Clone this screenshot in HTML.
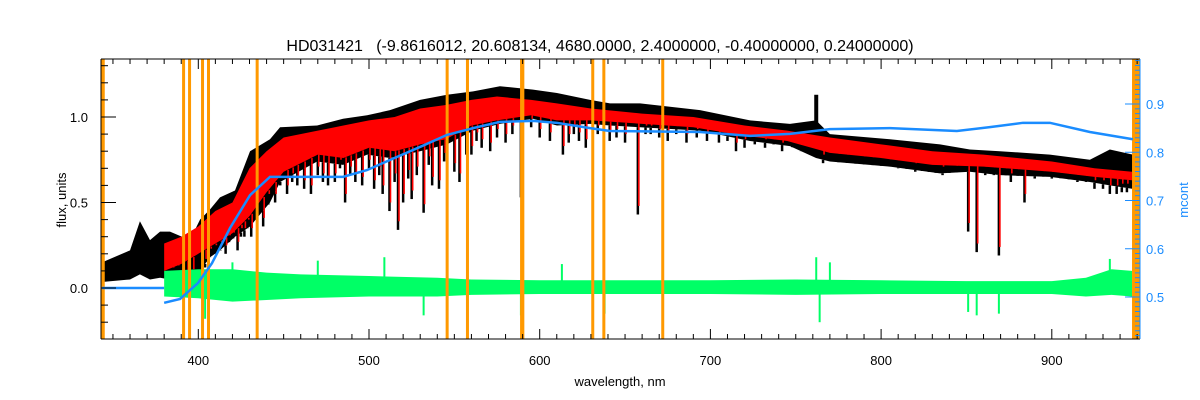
<!DOCTYPE html>
<html><head><meta charset="utf-8"><style>
html,body{margin:0;padding:0;background:#fff;}
svg{display:block;font-family:"Liberation Sans",sans-serif;}
</style></head><body>
<svg id="chart" width="1200" height="400" viewBox="0 0 1200 400" xmlns="http://www.w3.org/2000/svg">
<text x="600" y="51" text-anchor="middle" font-size="16" fill="#000" xml:space="preserve">HD031421   (-9.8616012, 20.608134, 4680.0000, 2.4000000, -0.40000000, 0.24000000)</text>
<text x="620" y="386" text-anchor="middle" font-size="13">wavelength, nm</text>
<text transform="translate(66,200) rotate(-90)" text-anchor="middle" font-size="13">flux, units</text>
<text transform="translate(1188,200) rotate(-90)" text-anchor="middle" font-size="13" fill="#1a8cff">mcont</text>
<g id="plot"></g>
</svg>
<script>
// ---- data ----
const envWl   = [343.6,360,365.8,371.7,377.6,383.4,395.1,401,406.9,412.7,421.5,430.3,442,447.9,469.6,484.8,498.9,512.3,529.9,545.7,561,576.7,596.1,610.1,629.5,641.2,658.8,693.9,723.2,746.6,761.9,770,805.2,834.5,852,869.6,898.9,922.3,934,947.5];
const fluxHi  = [0.15,0.22,0.39,0.28,0.33,0.33,0.28,0.40,0.46,0.53,0.57,0.80,0.87,0.94,0.95,0.99,1.01,1.04,1.10,1.13,1.15,1.18,1.16,1.14,1.10,1.08,1.08,1.04,0.98,0.96,0.98,0.90,0.87,0.84,0.81,0.80,0.78,0.75,0.81,0.78];
const fluxLo  = [0.035,0.05,0.08,0.05,0.06,0.05,0.05,0.10,0.18,0.22,0.30,0.36,0.50,0.62,0.74,0.72,0.78,0.76,0.80,0.84,0.92,0.96,0.99,0.95,0.96,0.95,0.94,0.92,0.86,0.83,0.76,0.74,0.71,0.67,0.68,0.66,0.65,0.62,0.60,0.58];
const modelWl = [380,390,400,410,420,430,440,450,470,485,500,515,530,545,560,575,595,610,630,660,690,720,745,770,800,830,860,900,925,947];
const modelHi = [0.26,0.30,0.36,0.45,0.50,0.70,0.80,0.88,0.92,0.95,0.98,1.00,1.05,1.07,1.10,1.12,1.10,1.08,1.05,1.02,1.00,0.95,0.92,0.88,0.84,0.80,0.78,0.74,0.70,0.68];
const modelLo = [0.10,0.14,0.20,0.26,0.32,0.42,0.56,0.68,0.78,0.76,0.82,0.80,0.84,0.87,0.95,0.98,1.01,0.98,0.98,0.96,0.94,0.89,0.86,0.79,0.76,0.72,0.71,0.68,0.65,0.63];
const lineWl  = [385,388,393.4,396.8,400,404,407,410,413,416,418,420.4,423,425,427,429,431,434,438,441,445,448,452,455,458,462,466,470,473,476,480,483,486,489,492,496,500,503,506,508,512,515,517,520,523,525,528,532,535,537,541,544,550,553,557,560,563,566,571,575,580,584,589,595,600,606,613.6,617,620,623,627,634,641,645,650,657.5,662,665,670,675,680,686,692,698,705,710,715,720,726,732,737,742,748,753,766,770,775,780,785,790,795,800,805,810,815,820,824,828,832,836,840,844,851,856,861,866,869,873,876,880,884,890,895,900,905,910,915,920,925,930,934,938,941,944];
const lineMin = [0.08,0.10,0.04,0.06,0.15,0.12,0.18,0.20,0.22,0.20,0.28,0.44,0.22,0.30,0.30,0.35,0.30,0.40,0.36,0.50,0.50,0.60,0.55,0.62,0.60,0.58,0.55,0.66,0.62,0.60,0.62,0.70,0.50,0.66,0.62,0.60,0.70,0.58,0.66,0.55,0.45,0.62,0.34,0.50,0.64,0.52,0.66,0.44,0.72,0.60,0.58,0.74,0.68,0.62,0.78,0.78,0.86,0.82,0.80,0.88,0.85,0.90,0.53,0.94,0.88,0.86,0.78,0.85,0.90,0.86,0.82,0.90,0.86,0.88,0.85,0.43,0.90,0.90,0.88,0.86,0.90,0.85,0.88,0.86,0.85,0.86,0.80,0.82,0.84,0.82,0.84,0.80,0.84,0.80,0.73,0.74,0.78,0.76,0.76,0.75,0.74,0.72,0.74,0.70,0.72,0.68,0.72,0.72,0.70,0.66,0.70,0.68,0.33,0.21,0.66,0.66,0.19,0.66,0.62,0.66,0.50,0.64,0.66,0.64,0.66,0.64,0.62,0.62,0.58,0.58,0.55,0.55,0.56,0.56];
const residWl = [380,400,420,440,460,500,540,560,600,650,700,750,800,850,900,920,935,947];
const residHi = [0.10,0.11,0.11,0.09,0.08,0.07,0.06,0.05,0.045,0.045,0.045,0.05,0.045,0.04,0.04,0.06,0.11,0.10];
const residLo = [-0.05,-0.06,-0.08,-0.07,-0.06,-0.05,-0.05,-0.04,-0.035,-0.035,-0.035,-0.04,-0.035,-0.035,-0.035,-0.05,-0.04,-0.05];
const spikeWl = [404,420,470,509,532,589,613,638,672,762,764,770,851,856,869,934];
const spikeVal= [-0.18,0.15,0.16,0.18,-0.16,-0.16,0.14,-0.15,0.39,0.18,-0.20,0.15,-0.14,-0.16,-0.15,0.17];
const contWl  = [380,389.3,399.8,408,418.6,430.3,442,469.5,484.8,498.8,512.3,529.9,545.7,561,576.7,596.1,610.1,629.5,641.2,693.9,723.2,746.6,770,805.2,844.4,863.7,883.1,898.9,922.3,947.5];
const contVal = [0.488,0.496,0.529,0.570,0.643,0.711,0.749,0.749,0.749,0.763,0.784,0.811,0.836,0.850,0.863,0.865,0.861,0.850,0.844,0.842,0.834,0.838,0.848,0.850,0.844,0.852,0.861,0.861,0.842,0.827];
const maskLo  = [343.0,390.5,394.0,401.6,405.1,433.6,544.9,556.8,588.5,630.2,636.7,671.2,947.0];
const maskHi  = [345.2,391.8,395.3,402.9,406.5,434.9,546.2,558.1,591.0,631.5,638.0,672.5,952.0];
const xTicks  = [400,500,600,700,800,900];
const yTicks  = [0.0,0.5,1.0];
const y2Ticks = [0.5,0.6,0.7,0.8,0.9];

// ---- axes ----
const L=101,R=1140,T=59,B=339;
const X=nm=>198.3+(nm-400)*1.707;
const Y=f=>288-f*171;
const YR=m=>297-(m-0.5)*482.5;
const NS="http://www.w3.org/2000/svg";
const plot=document.getElementById('plot');
function mk(tag,attrs,parent){const e=document.createElementNS(NS,tag);for(const k in attrs)e.setAttribute(k,attrs[k]);(parent||plot).appendChild(e);return e;}
function interp(xs,ys,x){if(x<=xs[0])return ys[0];for(let i=1;i<xs.length;i++){if(x<=xs[i]){const t=(x-xs[i-1])/(xs[i]-xs[i-1]);return ys[i-1]+t*(ys[i]-ys[i-1]);}}return ys[ys.length-1];}
const clip=mk('clipPath',{id:'pc'});mk('rect',{x:L,y:T,width:R-L,height:B-T},clip);
const g=mk('g',{'clip-path':'url(#pc)'});
function band(wl,hi,lo,color,name){
  let pts=wl.map((w,i)=>X(w)+','+Y(hi[i]));
  for(let i=wl.length-1;i>=0;i--)pts.push(X(wl[i])+','+Y(lo[i]));
  const p=mk('polygon',{points:pts.join(' '),fill:color},g);
  
  
}

// observed flux
band(envWl,fluxHi,fluxLo,'#000','observed-flux');
let gl=mk('g',{stroke:'#000','stroke-width':2.5},g);


lineWl.forEach((w,i)=>{const l=mk('line',{x1:X(w),x2:X(w),y1:Y(interp(envWl,fluxLo,w)),y2:Y(lineMin[i])},gl);
  });
const sp=mk('line',{x1:X(762),x2:X(762),y1:Y(0.9),y2:Y(1.13),stroke:'#000','stroke-width':4},g);


// model
band(modelWl,modelHi,modelLo,'#ff0000','model-flux');
let rl=mk('g',{stroke:'#ff0000','stroke-width':1.6},g);


lineWl.forEach((w,i)=>{if(w<380)return;const l=mk('line',{x1:X(w)+1,x2:X(w)+1,y1:Y(interp(modelWl,modelLo,w)),y2:Y(lineMin[i]+0.05)},rl);
  });

// residuals
band(residWl,residHi,residLo,'#00ff66','residuals');
let sl=mk('g',{stroke:'#00ff66','stroke-width':2},g);


spikeWl.forEach((w,i)=>{const l=mk('line',{x1:X(w),x2:X(w),y1:Y(0),y2:Y(spikeVal[i])},sl);
  });

// mask bands
maskLo.forEach((w,i)=>{const r=mk('rect',{x:X(w),y:T,width:Math.max(3,X(maskHi[i])-X(w)),height:B-T,fill:'#ff9900'},g);
  });

// continuum
const fl=mk('line',{x1:X(343.6),x2:X(380),y1:Y(0),y2:Y(0),stroke:'#1a8cff','stroke-width':2.5},g);

const cp=mk('polyline',{points:contWl.map((w,i)=>X(w)+','+YR(contVal[i])).join(' '),fill:'none',stroke:'#1a8cff','stroke-width':2.5},g);


// frame
const ax=mk('g',{stroke:'#000','stroke-width':1});

mk('line',{x1:L,y1:T,x2:R,y2:T},ax);mk('line',{x1:L,y1:B,x2:R,y2:B},ax);mk('line',{x1:L,y1:T,x2:L,y2:B},ax);
mk('line',{x1:R,y1:T,x2:R,y2:B,stroke:'#1a8cff'},ax);
for(let nm=350;nm<=950;nm+=10){const x=X(nm);if(x<L||x>R)continue;const len=(nm%100===0)?10:5;
  mk('line',{x1:x,x2:x,y1:B,y2:B-len},ax);mk('line',{x1:x,x2:x,y1:T,y2:T+len},ax);}
xTicks.forEach(v=>{const t=mk('text',{x:X(v),y:365,'text-anchor':'middle','font-size':13,stroke:'none'});t.textContent=v;
  });
for(let k=-3;k<=13;k++){const f=k/10;const y=Y(f);if(y<T||y>B)continue;const len=(k%5===0)?15:7;mk('line',{x1:L,x2:L+len,y1:y,y2:y},ax);}
yTicks.forEach(v=>{const t=mk('text',{x:88,y:Y(v)+5,'text-anchor':'end','font-size':13,stroke:'none'});t.textContent=v.toFixed(1);
  });
const bx=mk('g',{stroke:'#1a8cff','stroke-width':1});

for(let k=41;k<=99;k++){const m=k/100;const y=YR(m);if(y<T||y>B)continue;const len=(k%10===0)?15:5;mk('line',{x1:R,x2:R-len,y1:y,y2:y},bx);}
y2Ticks.forEach(v=>{const t=mk('text',{x:1146,y:YR(v)+5,'font-size':13,fill:'#1a8cff',stroke:'none'});t.textContent=v.toFixed(1);
  });
</script>
</body></html>
